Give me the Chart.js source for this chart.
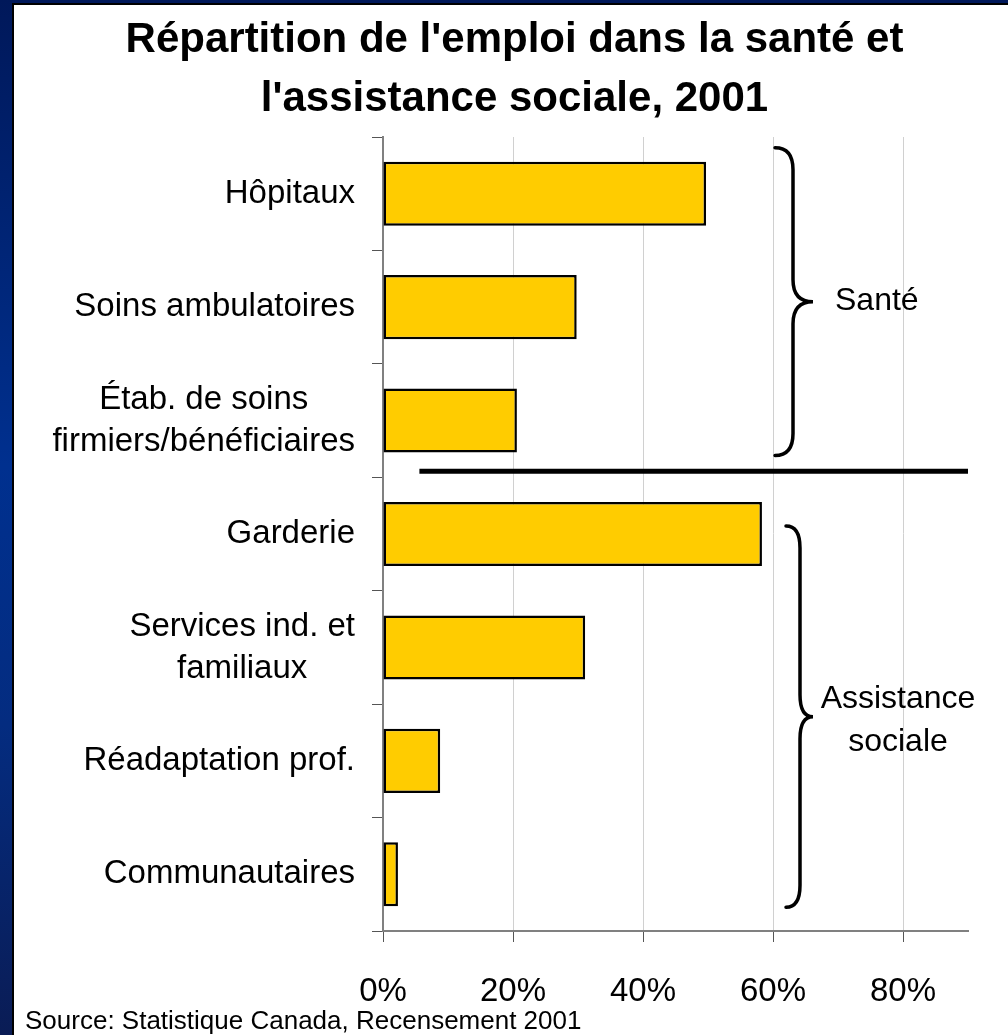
<!DOCTYPE html>
<html lang="fr">
<head>
<meta charset="utf-8">
<title>Répartition de l'emploi dans la santé et l'assistance sociale, 2001</title>
<script src="https://cdn.jsdelivr.net/npm/chart.js@4.4.1/dist/chart.umd.min.js"></script>
<style>
    html, body {
        margin: 0;
        width: 1008px;
        height: 1035px;
        overflow: hidden;
        background: linear-gradient(to bottom, #00185a 0%, #00308f 45%, #042c80 70%, #0a1c55 100%);
        font-family: 'Liberation Sans', Arial, sans-serif;
    }
    #frame {
        position: absolute;
        left: 12px;
        top: 3px;
        width: 994px;
        height: 1030px;
        background: #fff;
        border-left: 2px solid #000;
        border-top: 2px solid #000;
    }
    canvas { display: block; }
</style>
</head>
<body>
<div id="frame"><canvas id="employChart" width="994" height="1030"></canvas></div>
<script>
// chart data
const categories = [
    ['Hôpitaux'],
    ['Soins ambulatoires'],
    ['Étab. de soins', 'firmiers/bénéficiaires'],
    ['Garderie'],
    ['Services ind. et', 'familiaux'],
    ['Réadaptation prof.'],
    ['Communautaires']
];
const shares = [49.7, 29.8, 20.6, 58.3, 31.1, 8.8, 2.3];
const xTickValues = [0, 20, 40, 60, 80];
const groupNames = [['Santé'], ['Assistance', 'sociale']];
const groupRanges = [[0, 2], [3, 6]];
const titleLines = ["Répartition de l'emploi dans la santé et", "l'assistance sociale, 2001"];
const sourceNote = 'Source: Statistique Canada, Recensement 2001';

const FONT = "'Liberation Sans', Arial, sans-serif";

function drawBrace(ctx, xLeft, xVert, xTip, yTop, yBottom) {
    const yMid = (yTop + yBottom) / 2;
    const r = 22;
    ctx.beginPath();
    ctx.moveTo(xLeft, yTop);
    ctx.quadraticCurveTo(xVert, yTop, xVert, yTop + r);
    ctx.lineTo(xVert, yMid - r);
    ctx.quadraticCurveTo(xVert, yMid, xTip, yMid);
    ctx.quadraticCurveTo(xVert, yMid, xVert, yMid + r);
    ctx.lineTo(xVert, yBottom - r);
    ctx.quadraticCurveTo(xVert, yBottom, xLeft, yBottom);
    ctx.stroke();
}

const annotations = {
    id: 'annotations',
    afterDraw(chart) {
        const ctx = chart.ctx;
        const x = chart.scales.x;
        const y = chart.scales.y;
        ctx.save();

        // category labels, lines centred on each other, block right aligned
        ctx.fillStyle = '#000';
        ctx.font = '33px ' + FONT;
        ctx.textAlign = 'center';
        ctx.textBaseline = 'middle';
        const right = x.left - 28;
        categories.forEach((lines, i) => {
            const w = Math.max(...lines.map(l => ctx.measureText(l).width));
            const cy = y.getPixelForValue(i);
            const lh = 42;
            lines.forEach((l, k) => {
                ctx.fillText(l, right - w / 2, cy + (k - (lines.length - 1) / 2) * lh);
            });
        });

        // separator between the two groups
        const sepY = (y.getPixelForValue(2) + y.getPixelForValue(3)) / 2 - 6;
        ctx.strokeStyle = '#000';
        ctx.lineWidth = 5;
        ctx.beginPath();
        ctx.moveTo(x.getPixelForValue(5.6), sepY);
        ctx.lineTo(x.right, sepY);
        ctx.stroke();

        // braces
        ctx.lineWidth = 3.5;
        ctx.lineCap = 'round';
        const x60 = x.getPixelForValue(60);
        const t0 = y.getPixelForValue(groupRanges[0][0]) - 46;
        const b0 = y.getPixelForValue(groupRanges[0][1]) + 35;
        const t1 = y.getPixelForValue(groupRanges[1][0]) - 8;
        const b1 = y.getPixelForValue(groupRanges[1][1]) + 33;
        drawBrace(ctx, x60 + 2, x60 + 20, x60 + 40, t0, b0);
        drawBrace(ctx, x60 + 13, x60 + 27, x60 + 40, t1, b1);

        // group names
        ctx.font = '32px ' + FONT;
        ctx.textAlign = 'left';
        ctx.fillText(groupNames[0][0], x60 + 62, (t0 + b0) / 2);
        ctx.textAlign = 'center';
        groupNames[1].forEach((l, k) => {
            ctx.fillText(l, x60 + 125, (t1 + b1) / 2 - 17 + k * 43);
        });

        // source
        ctx.font = '26px ' + FONT;
        ctx.textAlign = 'left';
        ctx.textBaseline = 'alphabetic';
        ctx.fillText(sourceNote, 11, 1024);
        ctx.restore();
    }
};

const ctx = document.getElementById('employChart').getContext('2d');
new Chart(ctx, {
    type: 'bar',
    data: {
        labels: categories,
        datasets: [{
            data: shares,
            backgroundColor: '#ffcc00',
            borderColor: '#000',
            borderWidth: 2.5,
            borderSkipped: false,
            barPercentage: 0.565,
            categoryPercentage: 1
        }]
    },
    options: {
        indexAxis: 'y',
        responsive: false,
        animation: false,
        devicePixelRatio: 1,
        layout: { padding: { left: 47, right: 40, top: 0, bottom: 0 } },
        plugins: {
            legend: { display: false },
            tooltip: { enabled: false },
            title: {
                display: true,
                text: titleLines,
                color: '#000',
                font: { family: FONT, size: 42, weight: 'bold', lineHeight: 1.4 },
                padding: { top: 6, bottom: 8.4 }
            }
        },
        scales: {
            x: {
                min: 0,
                max: 90,
                afterBuildTicks: s => { s.ticks = s.ticks.filter(t => xTickValues.includes(t.value)); },
                afterFit: s => { s.height = 104; },
                ticks: {
                    stepSize: 20,
                    callback: v => v + '%',
                    color: '#000',
                    padding: 30,
                    font: { family: FONT, size: 33 }
                },
                grid: { color: '#d0d0d0', tickColor: '#555', tickLength: 11, lineWidth: 1 },
                border: { color: '#808080', width: 2 }
            },
            y: {
                afterFit: s => { s.width = 322; },
                ticks: { display: false },
                grid: { drawOnChartArea: false, drawTicks: true, tickLength: 11, tickColor: '#555', offset: true },
                border: { color: '#808080', width: 2 }
            }
        }
    },
    plugins: [annotations]
});
</script>
</body>
</html>
